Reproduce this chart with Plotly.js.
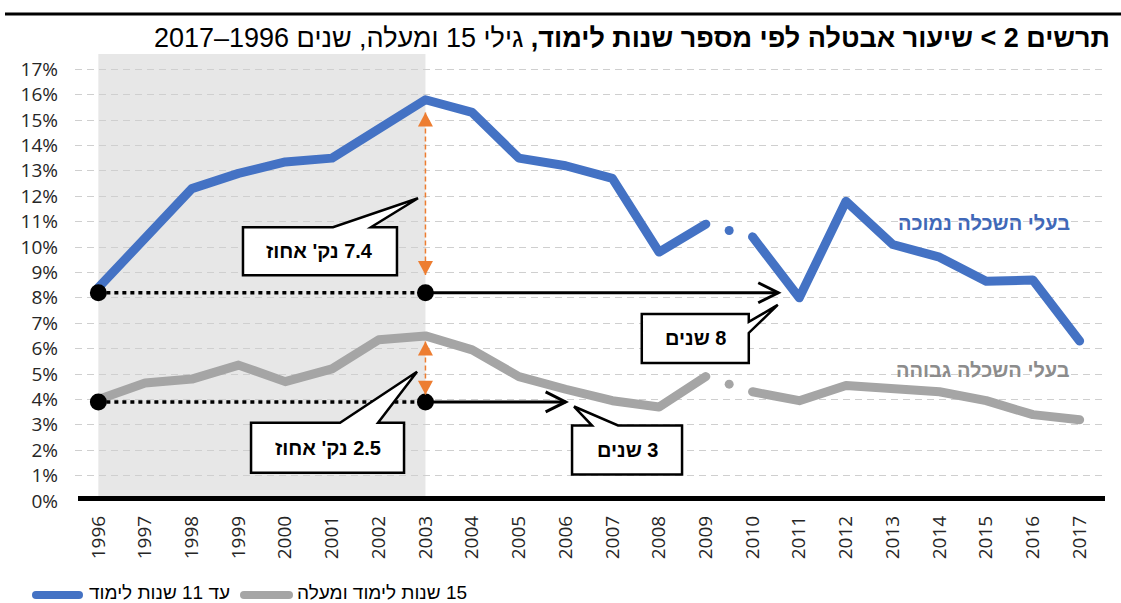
<!DOCTYPE html>
<html>
<head>
<meta charset="utf-8">
<script src="https://cdn.plot.ly/plotly-3.0.1.min.js"></script>
<style>
html,body{margin:0;padding:0;background:#fff;}
#chart{width:1121px;height:603px;}
</style>
</head>
<body>
<div id="chart"></div>
<script>
// ---- data ----
const years = [1996,1997,1998,1999,2000,2001,2002,2003,2004,2005,2006,2007,2008,2009,2010,2011,2012,2013,2014,2015,2016,2017];
const lowEdu  = [8.4,10.4,12.3,12.9,13.35,13.5,14.6,15.8,15.3,13.5,13.2,12.7,9.8,10.9,10.4,8.0,11.8,10.1,9.6,8.65,8.7,6.3];
const highEdu = [4.0,4.65,4.8,5.35,4.7,5.2,6.35,6.5,5.95,4.9,4.4,3.95,3.7,4.9,4.3,3.95,4.55,4.45,4.3,3.95,3.4,3.2];
const seriesNames = ["עד 11 שנות לימוד", "\u200F15 שנות לימוד ומעלה"];
const lineLabels = ["בעלי השכלה נמוכה", "בעלי השכלה גבוהה"];
const breakAfterYear = 2009;           // series break between 2009 and 2010
const shadeYears = [1996, 2003];       // shaded period
const refLevels = [8.2, 3.9];          // dotted reference levels (low / high)
const arrowEndYears = [2010.55, 2006]; // where the black arrows end
const gapTips = [[15.3, 8.9], [6.28, 4.18]]; // orange double arrows (top tip, bottom tip)
const gapLabels = ["\u200F7.4 נק' אחוז", "\u200F2.5 נק' אחוז"];
const yearsLabels = ["\u200F8 שנים", "\u200F3 שנים"];
const titleBold = "תרשים 2 > שיעור אבטלה לפי מספר שנות לימוד,";
const titleRest = " גילי 15 ומעלה, שנים 1996–2017";
const yTicks = [0,1,2,3,4,5,6,7,8,9,10,11,12,13,14,15,16,17];

const BLUE = '#4472C4', GRAY = '#A5A5A5', ORANGE = '#ED7D31';
const FONT = 'Liberation Sans, DejaVu Sans, sans-serif';
const AXFONT = 'Open Sans, DejaVu Sans, sans-serif';

// plot geometry (pixels) used to place decorations given in pixels
const W = 1121, H = 603, ML = 75, MR = 18, MT = 54, MB = 101.5;
const PW = W - ML - MR, PH = H - MT - MB;
const px2paperX = px => (px - ML) / PW;
const px2paperY = py => (H - MB - py) / PH;

function split(vals) {
  const i = years.indexOf(breakAfterYear);
  return {
    x1: years.slice(0, i + 1), y1: vals.slice(0, i + 1),
    x2: years.slice(i + 1), y2: vals.slice(i + 1),
    mx: (years[i] + years[i + 1]) / 2, my: (vals[i] + vals[i + 1]) / 2
  };
}
const lo = split(lowEdu), hi = split(highEdu);
const LW = 9;

const traces = [
  {x: lo.x1, y: lo.y1, mode: 'lines', name: seriesNames[0], legendgroup: 'lo', line: {color: BLUE, width: LW}, hoverinfo: 'skip'},
  {x: lo.x2, y: lo.y2, mode: 'lines', showlegend: false, legendgroup: 'lo', line: {color: BLUE, width: LW}, hoverinfo: 'skip'},
  {x: [lo.mx], y: [lo.my], mode: 'markers', showlegend: false, marker: {color: BLUE, size: 9}, hoverinfo: 'skip'},
  {x: hi.x1, y: hi.y1, mode: 'lines', name: seriesNames[1], legendgroup: 'hi', line: {color: GRAY, width: LW}, hoverinfo: 'skip'},
  {x: hi.x2, y: hi.y2, mode: 'lines', showlegend: false, legendgroup: 'hi', line: {color: GRAY, width: LW}, hoverinfo: 'skip'},
  {x: [hi.mx], y: [hi.my], mode: 'markers', showlegend: false, marker: {color: GRAY, size: 9}, hoverinfo: 'skip'}
];
refLevels.forEach(v => {
  traces.push({x: shadeYears, y: [v, v], mode: 'lines+markers', showlegend: false,
    line: {color: '#000', width: 3.5, dash: '4px,4px'}, marker: {color: '#000', size: 17}, hoverinfo: 'skip'});
});

const shapes = [];
shapes.push({type: 'rect', xref: 'x', yref: 'paper', x0: shadeYears[0], x1: shadeYears[1], y0: 0, y1: 1,
  fillcolor: '#E7E7E7', line: {width: 0}, layer: 'below'});
shapes.push({type: 'line', xref: 'paper', yref: 'paper', x0: px2paperX(5), x1: px2paperX(1121), y0: px2paperY(14), y1: px2paperY(14),
  line: {color: '#000', width: 3}});
shapes.push({type: 'line', xref: 'paper', yref: 'y', x0: px2paperX(78), x1: px2paperX(1105), y0: 0, y1: 0, line: {color: '#000', width: 10}});
refLevels.forEach((v, i) => {
  shapes.push({type: 'line', xref: 'x', yref: 'y', x0: shadeYears[1], x1: arrowEndYears[i], y0: v, y1: v,
    line: {color: '#000', width: 3}});
  shapes.push({type: 'path', xref: 'x', yref: 'y', xsizemode: 'pixel', ysizemode: 'pixel',
    xanchor: arrowEndYears[i], yanchor: v, path: 'M -20,10 L 0,0 L -20,-10', line: {color: '#000', width: 3}});
});
gapTips.forEach(t => {
  shapes.push({type: 'line', xref: 'x', yref: 'y', x0: shadeYears[1], x1: shadeYears[1], y0: t[0], y1: t[1],
    line: {color: ORANGE, width: 1.5, dash: '5px,3px'}});
  shapes.push({type: 'path', xref: 'x', yref: 'y', xsizemode: 'pixel', ysizemode: 'pixel', xanchor: shadeYears[1], yanchor: t[0],
    path: 'M 0,0 L -7.5,-14 L 7.5,-14 Z', fillcolor: ORANGE, line: {width: 0}});
  shapes.push({type: 'path', xref: 'x', yref: 'y', xsizemode: 'pixel', ysizemode: 'pixel', xanchor: shadeYears[1], yanchor: t[1],
    path: 'M 0,0 L -7.5,14 L 7.5,14 Z', fillcolor: ORANGE, line: {width: 0}});
});
const callouts = [
  {ax: 2002.84, ay: 11.92, path: 'M -175,-29 L -85,-29 L 0,0 L -47,-29 L -21,-29 L -21,-77 L -175,-77 Z', tx: -98, ty: -53, text: gapLabels[0]},
  {ax: 2002.82, ay: 5.09, path: 'M -166,-51 L -77,-51 L 0,0 L -39,-51 L -13,-51 L -13,-101 L -166,-101 Z', tx: -89.5, ty: -76, text: gapLabels[1]},
  {ax: 2010.54, ay: 7.72, path: 'M -136,-9 L -29,-9 L -29,-17 L 0,0 L -29,-28 L -29,-58 L -136,-58 Z', tx: -82.5, ty: -33.5, text: yearsLabels[0]},
  {ax: 2006.18, ay: 3.72, path: 'M -2,-19 L 18,-19 L 0,0 L 44,-19 L 108,-19 L 108,-68 L -2,-68 Z', tx: 53, ty: -43.5, text: yearsLabels[1]}
];
const annotations = [];
callouts.forEach(c => {
  shapes.push({type: 'path', xref: 'x', yref: 'y', xsizemode: 'pixel', ysizemode: 'pixel', xanchor: c.ax, yanchor: c.ay,
    path: c.path, fillcolor: '#fff', line: {color: '#000', width: 2.5}});
  annotations.push({x: c.ax, y: c.ay, xref: 'x', yref: 'y', xshift: c.tx, yshift: c.ty, showarrow: false,
    text: '<b>' + c.text + '</b>', font: {family: FONT, size: 20, color: '#000'}, xanchor: 'center', yanchor: 'middle'});
});
annotations.push({x: 2016.84, y: 10.95, xref: 'x', yref: 'y', xanchor: 'right', yanchor: 'middle', showarrow: false,
  text: '<b>' + lineLabels[0] + '</b>', font: {family: FONT, size: 20, color: '#4068B8'}});
annotations.push({x: 2016.84, y: 5.17, xref: 'x', yref: 'y', xanchor: 'right', yanchor: 'middle', showarrow: false,
  text: '<b>' + lineLabels[1] + '</b>', font: {family: FONT, size: 20, color: '#8C8C8C'}});

// custom legend (long rounded swatches like the reference)
const legendItems = [
  {color: BLUE, sx0: 36, sx1: 79, tx: 87, text: seriesNames[0]},
  {color: GRAY, sx0: 244, sx1: 289, tx: 295, text: seriesNames[1]}
];
legendItems.forEach(it => {
  shapes.push({type: 'line', xref: 'paper', yref: 'paper', x0: px2paperX(it.sx0), x1: px2paperX(it.sx1),
    y0: px2paperY(595.5), y1: px2paperY(595.5), line: {color: it.color, width: 8}, name: 'legendswatch'});
  annotations.push({xref: 'paper', yref: 'paper', x: px2paperX(it.tx), y: px2paperY(593), xanchor: 'left', yanchor: 'middle',
    showarrow: false, text: it.text, font: {family: FONT, size: 19, color: '#000'}});
});

const layout = {
  width: W, height: H,
  margin: {l: ML, r: MR, t: MT, b: MB, pad: 0},
  paper_bgcolor: '#fff', plot_bgcolor: 'rgba(0,0,0,0)',
  title: {text: '<b>' + titleBold + '</b>' + titleRest, x: 1110/1121, xanchor: 'right', xref: 'container',
    y: 1 - 38/603, yanchor: 'middle', yref: 'container', font: {family: FONT, size: 27, color: '#000'}},
  xaxis: {type: 'linear', range: [1995.5, 2017.5], tickmode: 'array', tickvals: years, ticktext: years.map(String),
    tickangle: -90, showgrid: false, zeroline: false, showline: false, ticks: '', ticklabelstandoff: 10,
    tickfont: {family: AXFONT, size: 19, color: '#262626'}, fixedrange: true},
  yaxis: {range: [0, 17.6], tickmode: 'array', tickvals: yTicks, ticktext: yTicks.map(v => v + '%'),
    showgrid: true, gridcolor: '#CFCFCF', griddash: '7px,5px', gridwidth: 1, zeroline: false, showline: false, ticks: '',
    ticklabelstandoff: 16, tickfont: {family: AXFONT, size: 19, color: '#262626'}, fixedrange: true},
  showlegend: false,
  shapes: shapes,
  annotations: annotations,
  hovermode: false
};

Plotly.newPlot('chart', traces, layout, {displayModeBar: false, staticPlot: true}).then(gd => {
  const tr = gd.querySelectorAll('.scatterlayer .trace');
  [0, 1, 3, 4].forEach(i => {
    if (tr[i]) tr[i].querySelectorAll('path.js-line').forEach(p => {
      p.style.strokeLinecap = 'round'; p.style.strokeLinejoin = 'round';
    });
  });
  // round caps for legend swatches
  gd.querySelectorAll('.shapelayer path').forEach(p => {
    const w = parseFloat(p.style.strokeWidth);
    if (w === 8) p.style.strokeLinecap = 'round';
  });
});
</script>
</body>
</html>
